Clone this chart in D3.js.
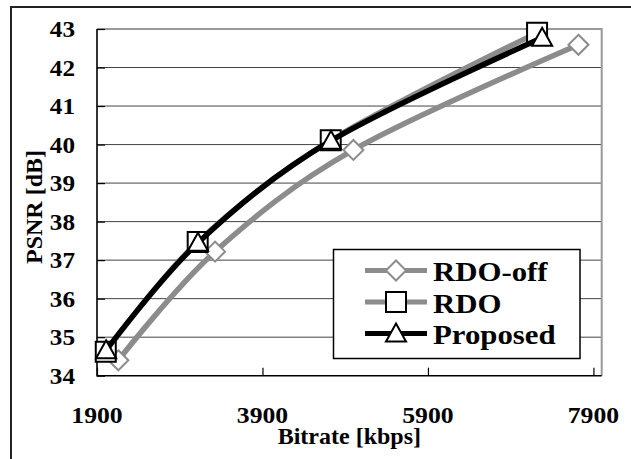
<!DOCTYPE html>
<html><head><meta charset="utf-8">
<script src="https://cdn.jsdelivr.net/npm/d3@7"></script>
<style>html,body{margin:0;padding:0;background:#fff;overflow:hidden}</style>
</head><body>
<svg id="c" width="631" height="459"></svg>
<script>
const seriesNames = ["RDO-off", "RDO", "Proposed"];
const rdoOff   = [[2158, 34.40], [3327, 37.22], [4999, 39.86], [7719, 42.59]];
const rdo      = [[2006, 34.62], [3117, 37.47], [4725, 40.11], [7219, 42.90]];
const proposed = [[2010, 34.66], [3120, 37.45], [4728, 40.10], [7280, 42.77]];
const xTicks = [1900, 3900, 5900, 7900];
const yTicks = [34, 35, 36, 37, 38, 39, 40, 41, 42, 43];
const xTitle = "Bitrate [kbps]";
const yTitle = "PSNR [dB]";

const svg = d3.select("#c");
const FONT = "Liberation Serif";
const L = 97, R = 601.7, T = 29, B = 375.7;
const x = d3.scaleLinear().domain([1900, 8000]).range([L, R]);
const y = d3.scaleLinear().domain([34, 43]).range([B, T]);

// outer frame (cropped)
svg.append("rect").attr("x", 11).attr("y", 7).attr("width", 800).attr("height", 800)
  .attr("fill", "none").attr("stroke", "#222").attr("stroke-width", 2);

// gridlines
svg.append("g").selectAll("line").data(yTicks.filter(d => d > 34 && d < 43)).join("line")
  .attr("x1", L).attr("x2", R).attr("y1", d => y(d)).attr("y2", d => y(d))
  .attr("stroke", "#444").attr("stroke-width", 1);

// top/right border gray
svg.append("path").attr("d", `M${L},${T}H${R}V${B}`).attr("fill", "none")
  .attr("stroke", "#999").attr("stroke-width", 2);

// axes
const xAxis = d3.axisBottom(x).tickValues(xTicks).tickSize(-8).tickFormat("");
svg.append("g").attr("transform", `translate(0,${B})`).call(xAxis)
  .call(g => { g.select(".domain").remove(); g.selectAll("line").attr("stroke", "#000").attr("stroke-width", 1.2); });
const yAxis = d3.axisLeft(y).tickValues(yTicks).tickSize(-8).tickFormat("");
svg.append("g").attr("transform", `translate(${L},0)`).call(yAxis)
  .call(g => { g.select(".domain").remove(); g.selectAll("line").attr("stroke", "#000").attr("stroke-width", 1.2); });
svg.append("path").attr("d", `M${L},${T}V${B}H${R}`).attr("fill", "none")
  .attr("stroke", "#000").attr("stroke-width", 1.6);

function stxt(g, tx, ty, s, size, anchor, sx, rot) {
  const gg = g.append("g").attr("transform", `translate(${tx},${ty})` + (rot ? ` rotate(${rot})` : "") + ` scale(${sx},1)`);
  gg.append("text").attr("x", 0).attr("y", 0).attr("text-anchor", anchor)
    .style("font-family", FONT).style("font-weight", "bold").style("font-size", size + "px")
    .attr("fill", "#000").text(s);
}

// tick labels
const tl = svg.append("g");
yTicks.forEach(d => stxt(tl, 75, y(d) + 8, String(d), 24, "end", 1.05));
xTicks.forEach(d => stxt(tl, x(d), 423, String(d), 24, "middle", 1.07));

// titles
stxt(svg, (L + R) / 2, 444, xTitle, 24, "middle", 1.0);
stxt(svg, 42, 207, yTitle, 24, "middle", 1.0, -90);

// series
const series = [
  {name: seriesNames[0], data: rdoOff, color: "#8c8c8c", mcolor: "#8c8c8c", marker: "diamond"},
  {name: seriesNames[1], data: rdo, color: "#8c8c8c", mcolor: "#000", marker: "square"},
  {name: seriesNames[2], data: proposed, color: "#000", mcolor: "#000", marker: "triangle"}
];
const line = d3.line().x(d => x(d[0])).y(d => y(d[1])).curve(d3.curveCardinal.tension(0));

function markerPath(type) {
  if (type === "diamond") return "M0,-10L10,0L0,10L-10,0Z";
  if (type === "square") return "M-10,-10H10V10H-10Z";
  return "M0,-10L10,8L-10,8Z";
}

series.forEach(s => {
  svg.append("path").datum(s.data).attr("d", line).attr("fill", "none")
    .attr("stroke", s.color).attr("stroke-width", 5.5).attr("stroke-linejoin", "round");
  svg.append("g").selectAll("path").data(s.data).join("path")
    .attr("transform", d => `translate(${x(d[0])},${y(d[1])})`)
    .attr("d", markerPath(s.marker)).attr("fill", "#fff")
    .attr("stroke", s.mcolor).attr("stroke-width", 2);
});

// legend
const lg = svg.append("g");
lg.append("rect").attr("x", 333.5).attr("y", 249.5).attr("width", 246.5).attr("height", 109)
  .attr("fill", "#fff").attr("stroke", "#000").attr("stroke-width", 1.5);
series.forEach((s, i) => {
  const cy = 270.5 + i * 31.5;
  lg.append("line").attr("x1", 365).attr("x2", 427).attr("y1", cy).attr("y2", cy)
    .attr("stroke", s.color).attr("stroke-width", 5);
  lg.append("path").attr("transform", `translate(396,${cy})`).attr("d", markerPath(s.marker))
    .attr("fill", "#fff").attr("stroke", s.mcolor).attr("stroke-width", 2);
  stxt(lg, 433, cy + 10.5, s.name, 28, "start", 1.1);
});
</script>
</body></html>
